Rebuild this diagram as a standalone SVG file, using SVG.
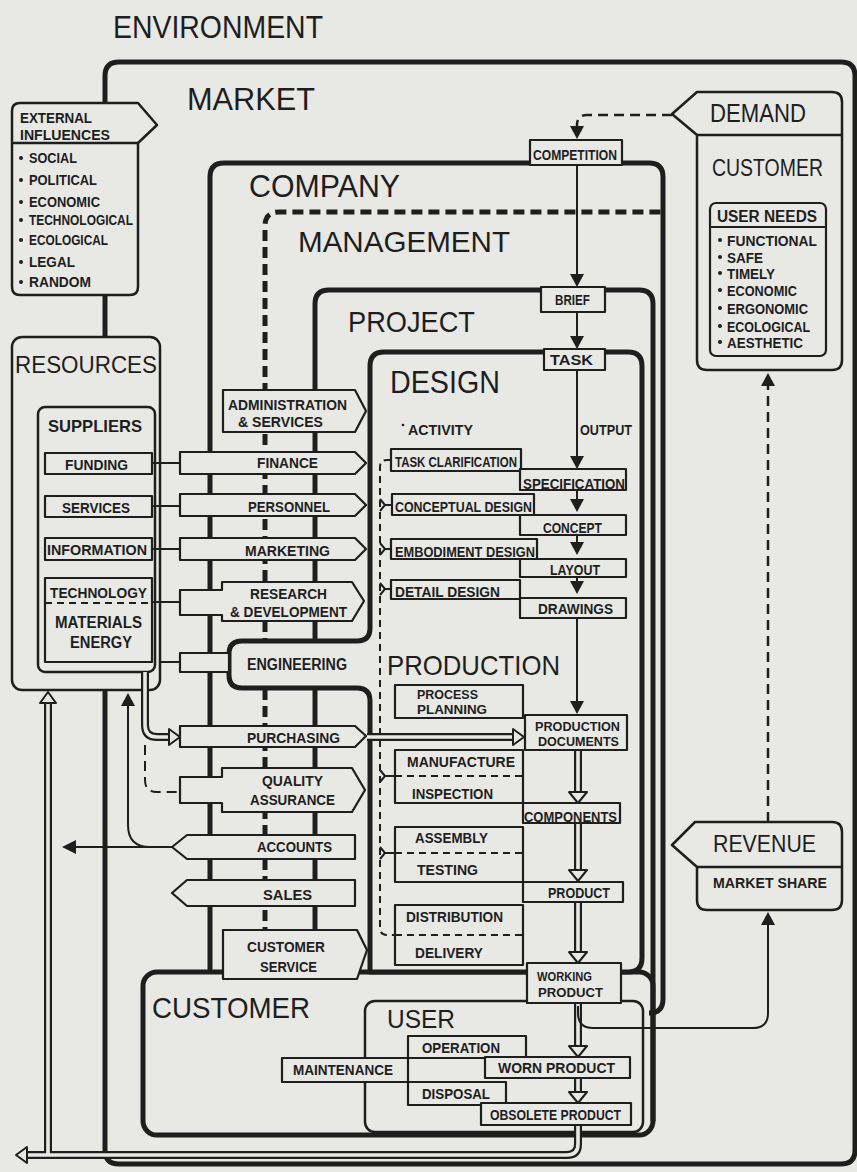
<svg xmlns="http://www.w3.org/2000/svg" width="857" height="1172" viewBox="0 0 857 1172">
<style>
.k{fill:none;stroke:#1e1e1e;stroke-width:5;stroke-linejoin:round}
.kf{fill:#e8e8e5;stroke:#1e1e1e;stroke-width:5;stroke-linejoin:round}
.kd{fill:none;stroke:#1e1e1e;stroke-width:5;stroke-dasharray:11 6}
.n{fill:#e8e8e5;stroke:#1e1e1e;stroke-width:2.2;stroke-linejoin:round}
.ln{fill:none;stroke:#1e1e1e;stroke-width:2}
.dl{fill:none;stroke:#1e1e1e;stroke-width:2;stroke-dasharray:7 5}
.dd{fill:none;stroke:#1e1e1e;stroke-width:2.5;stroke-dasharray:10 6}
.s1{fill:none;stroke:#1e1e1e;stroke-width:8}
.s2{fill:none;stroke:#e8e8e5;stroke-width:3.6}
.t{font-family:"Liberation Sans",Arial,sans-serif;fill:#1e1e1e}
.b{font-weight:bold;font-size:15px}
.bt{font-weight:bold;font-size:13px}
.bm{font-weight:bold;font-size:16px}
.bl{font-weight:bold;font-size:17px}
.bs{font-weight:bold;font-size:14px}
.dot{fill:#1e1e1e}
</style>
<defs>
<path id="ad" d="M-7,-13 H7 L0,0 Z" fill="#1e1e1e"/>
<path id="au" d="M-7,13 H7 L0,0 Z" fill="#1e1e1e"/>
<path id="al" d="M14,-7 V7 L0,0 Z" fill="#1e1e1e"/>
<path id="hd" d="M-9,-11 H9 L0,0 Z" fill="#e8e8e5" stroke="#1e1e1e" stroke-width="2" stroke-linejoin="round"/>
<path id="hu" d="M-8,11 H8 L0,0 Z" fill="#e8e8e5" stroke="#1e1e1e" stroke-width="2" stroke-linejoin="round"/>
<path id="hr" d="M-11,-8 V8 L0,0 Z" fill="#e8e8e5" stroke="#1e1e1e" stroke-width="2" stroke-linejoin="round"/>
<path id="hl" d="M11,-8 V8 L0,0 Z" fill="#e8e8e5" stroke="#1e1e1e" stroke-width="2" stroke-linejoin="round"/>
</defs>
<rect width="857" height="1172" fill="#e8e8e5"/>

<g id="containers">
<path class="k" d="M105,1150 V76 Q105,62 119,62 H841 Q855,62 855,76 V1150 Q855,1164 841,1164 H119 Q105,1164 105,1150 Z"/>
<path class="k" d="M210,972 V177 Q210,163 224,163 H649 Q663,163 663,177 V999 Q663,1013 649,1013"/>
<path class="kd" d="M265,972 V226 Q265,212 279,212 H661"/>
<path class="k" d="M315,972 V304 Q315,290 329,290 H639 Q653,290 653,304 V1121"/>
<rect class="k" x="143" y="972" width="510" height="163" rx="14"/>
<path class="kf" d="M370,366 Q370,352 384,352 H628 Q642,352 642,366 V958 Q642,972 628,972 H370 V701 Q370,688 357,688 H242 Q229,688 229,675 V654 Q229,641 242,641 H357 Q370,641 370,628 Z"/>
<rect class="n" x="365" y="1001" width="278" height="131" rx="10" style="fill:none;stroke-width:2.5"/>
</g>

<g id="external-influences">
<path class="n" d="M20,103 H138 L157,125 L138,143 V287 Q138,295 130,295 H20 Q12,295 12,287 V111 Q12,103 20,103 Z" style="stroke-width:2.5"/>
<path class="ln" d="M12,143 H138" style="stroke-width:2.5"/>
</g>
<g id="demand-customer">
<path class="n" d="M697,92 H832 Q842,92 842,102 V360 Q842,370 832,370 H707 Q697,370 697,360 V135 L672,114 Z" style="stroke-width:2.5"/>
<path class="ln" d="M697,135 H842" style="stroke-width:2.5"/>
</g>
<g id="user-needs">
<rect class="n" x="710" y="203" width="116" height="153" rx="6"/>
<path class="ln" d="M710,227 H826"/>
</g>
<g id="revenue">
<path class="n" d="M695,822 H832 Q842,822 842,832 V900 Q842,910 832,910 H707 Q697,910 697,900 V867 L672,845 Z" style="stroke-width:2.5"/>
<path class="ln" d="M697,867 H842" style="stroke-width:2.5"/>
</g>
<g id="resources">
<rect class="n" x="12" y="337" width="148" height="353" rx="10" style="stroke-width:2.5"/>
</g>
<g id="suppliers">
<rect class="n" x="38" y="407" width="117" height="265" rx="7" style="stroke-width:2.5"/>
</g>
<g id="funding"><rect class="n" x="45" y="453" width="107" height="21"/></g>
<g id="services"><rect class="n" x="45" y="496" width="107" height="21"/></g>
<g id="information"><rect class="n" x="45" y="538" width="107" height="22"/></g>
<g id="technology"><rect class="n" x="45" y="578" width="107" height="84"/><path class="dl" d="M45,603 H152"/></g>

<g id="admin"><path class="n" d="M223,390 H355 L366,411 L355,432 H223 Z"/></g>
<g id="finance"><path class="n" d="M180,452 H355 L366,463 L355,474 H180 Z"/></g>
<g id="personnel"><path class="n" d="M180,494 H355 L366,505 L355,516 H180 Z"/></g>
<g id="marketing"><path class="n" d="M180,538 H355 L366,549 L355,560 H180 Z"/></g>
<g id="rnd"><path class="n" d="M180,590 H222 V582 H352 L364,601 L352,621 H222 V615 H180 Z"/></g>
<g id="engineering"><rect class="n" x="180" y="653" width="49" height="19"/></g>
<g id="purchasing"><path class="n" d="M180,726 H355 L366,736 L355,747 H180 Z"/></g>
<g id="qa"><path class="n" d="M180,777 H222 V768 H352 L365,790 L352,812 H222 V803 H180 Z"/></g>
<g id="accounts"><path class="n" d="M172,847 L187,835 H355 V859 H187 Z"/></g>
<g id="sales"><path class="n" d="M172,893 L187,880 H355 V906 H187 Z"/></g>
<g id="customer-service"><path class="n" d="M223,930 H357 L367,950 L357,979 H223 Z"/></g>

<g id="competition"><rect class="n" x="530" y="140" width="92" height="25"/></g>
<g id="brief"><rect class="n" x="541" y="287" width="64" height="25"/></g>
<g id="task"><rect class="n" x="544" y="349" width="61" height="21"/></g>
<g id="task-clarification"><rect class="n" x="391" y="449" width="130" height="22"/></g>
<g id="specification"><rect class="n" x="520" y="469" width="106" height="21"/></g>
<g id="conceptual-design"><rect class="n" x="392" y="494" width="142" height="21"/></g>
<g id="concept"><rect class="n" x="520" y="515" width="106" height="20"/></g>
<g id="embodiment-design"><rect class="n" x="391" y="539" width="146" height="20"/></g>
<g id="layout"><rect class="n" x="520" y="559" width="106" height="18"/></g>
<g id="detail-design"><rect class="n" x="391" y="580" width="129" height="19"/></g>
<g id="drawings"><rect class="n" x="520" y="598" width="106" height="20"/></g>
<g id="process-planning"><rect class="n" x="395" y="685" width="128" height="33"/></g>
<g id="production-documents"><rect class="n" x="525" y="715" width="102" height="35"/></g>
<g id="manufacture"><rect class="n" x="395" y="750" width="128" height="53"/><path class="dl" d="M395,776 H523"/></g>
<g id="components"><rect class="n" x="523" y="803" width="97" height="20"/></g>
<g id="assembly"><rect class="n" x="395" y="827" width="128" height="55"/><path class="dl" d="M395,853 H523"/></g>
<g id="product"><rect class="n" x="523" y="882" width="100" height="20"/></g>
<g id="distribution"><rect class="n" x="395" y="905" width="128" height="60"/><path class="dl" d="M395,935 H523"/></g>
<g id="working-product"><rect class="n" x="527" y="963" width="94" height="40"/></g>
<g id="operation"><rect class="n" x="408" y="1036" width="118" height="22"/></g>
<g id="maintenance"><rect class="n" x="282" y="1058" width="126" height="24"/></g>
<g id="disposal"><rect class="n" x="408" y="1082" width="98" height="23"/></g>
<g id="worn-product"><rect class="n" x="485" y="1057" width="145" height="21"/></g>
<g id="obsolete-product"><rect class="n" x="481" y="1103" width="150" height="22"/></g>

<g id="connectors">
<path class="ln" d="M152,463 H180 M152,506 H180 M152,549 H180 M152,602 H180 M160,662 H180"/>
<path class="dd" d="M672,115 H587 Q577,115 577,125 V127"/>
<use href="#ad" x="577" y="139"/>
<path class="ln" d="M577,165 V275 M577,312 V337 M577,370 V457 M577,490 V500 M577,535 V542 M577,577 V582 M577,618 V702"/>
<use href="#ad" x="577" y="287"/>
<use href="#ad" x="577" y="349"/>
<use href="#ad" x="577" y="469"/>
<use href="#ad" x="577" y="512"/>
<use href="#ad" x="577" y="555"/>
<use href="#ad" x="577" y="594"/>
<use href="#ad" x="577" y="714"/>
<path class="dl" d="M391,460 H387 Q380,460 380,467 V928 Q380,935 387,935 H395"/>
<path class="ln" d="M380,499 L385,505 L380,511 M385,505 H392 M380,543 L385,549 L380,555 M385,549 H391 M380,583 L385,589 L380,595 M385,589 H391 M380,770 L385,776 L380,782 M385,776 H395 M380,847 L385,853 L380,859 M385,853 H395"/>
<path class="s1" d="M578,751 V793 M578,824 V871 M578,903 V953 M578,1004 V1047 M578,1079 V1093 M578,1126 V1144 Q578,1155 567,1155 H27 M48,1155 V703 M145,672 V725 Q145,737 157,737 H169 M367,737 H513"/>
<path class="s2" d="M578,751 V793 M578,824 V871 M578,903 V953 M578,1004 V1047 M578,1079 V1093 M578,1126 V1144 Q578,1155 567,1155 H27 M48,1155 V703 M145,672 V725 Q145,737 157,737 H169 M367,737 H513"/>
<use href="#hd" x="578" y="803"/>
<use href="#hd" x="578" y="881"/>
<use href="#hd" x="578" y="963"/>
<use href="#hd" x="578" y="1057"/>
<use href="#hd" x="578" y="1103"/>
<use href="#hl" x="16" y="1155"/>
<use href="#hu" x="48" y="692"/>
<use href="#hr" x="180" y="737"/>
<use href="#hr" x="524" y="737"/>
<path class="dd" d="M145,745 V780 Q145,792 157,792 H180" style="stroke-width:2"/>
<path class="ln" d="M172,847 H74 M150,847 Q128,847 128,825 V705"/>
<use href="#al" x="62" y="847"/>
<use href="#au" x="128" y="693"/>
<path class="ln" d="M578,1006 V1013 Q578,1028 593,1028 H753 Q768,1028 768,1013 V924"/>
<use href="#au" x="768" y="912"/>
<path class="dd" d="M768,822 V386"/>
<use href="#au" x="768" y="373"/>
</g>

<g id="labels" class="t">
<text x="113" y="38" font-size="31" textLength="210" lengthAdjust="spacingAndGlyphs">ENVIRONMENT</text>
<text x="187" y="110" font-size="31" textLength="128" lengthAdjust="spacingAndGlyphs">MARKET</text>
<text x="249" y="197" font-size="32" textLength="151" lengthAdjust="spacingAndGlyphs">COMPANY</text>
<text x="298" y="252" font-size="30" textLength="212" lengthAdjust="spacingAndGlyphs">MANAGEMENT</text>
<text x="348" y="332" font-size="30" textLength="127" lengthAdjust="spacingAndGlyphs">PROJECT</text>
<text x="390" y="393" font-size="31" textLength="110" lengthAdjust="spacingAndGlyphs">DESIGN</text>
<text x="387" y="675" font-size="28" textLength="173" lengthAdjust="spacingAndGlyphs">PRODUCTION</text>
<text x="152" y="1018" font-size="29" textLength="158" lengthAdjust="spacingAndGlyphs">CUSTOMER</text>
<text x="387" y="1028" font-size="26" textLength="68" lengthAdjust="spacingAndGlyphs">USER</text>
<text x="15" y="373" font-size="23" textLength="142" lengthAdjust="spacingAndGlyphs">RESOURCES</text>
<text x="710" y="122" font-size="25" textLength="96" lengthAdjust="spacingAndGlyphs">DEMAND</text>
<text x="712" y="176" font-size="24" textLength="111" lengthAdjust="spacingAndGlyphs">CUSTOMER</text>
<text x="713" y="852" font-size="23" textLength="103" lengthAdjust="spacingAndGlyphs">REVENUE</text>

<text class="b" x="20" y="123" textLength="72" lengthAdjust="spacingAndGlyphs">EXTERNAL</text>
<text class="b" x="20" y="140" textLength="90" lengthAdjust="spacingAndGlyphs">INFLUENCES</text>
<text class="b" x="29" y="163" textLength="48" lengthAdjust="spacingAndGlyphs">SOCIAL</text>
<text class="b" x="29" y="185" textLength="68" lengthAdjust="spacingAndGlyphs">POLITICAL</text>
<text class="b" x="29" y="207" textLength="71" lengthAdjust="spacingAndGlyphs">ECONOMIC</text>
<text class="b" x="29" y="225" textLength="104" lengthAdjust="spacingAndGlyphs">TECHNOLOGICAL</text>
<text class="b" x="29" y="245" textLength="79" lengthAdjust="spacingAndGlyphs">ECOLOGICAL</text>
<text class="b" x="29" y="267" textLength="46" lengthAdjust="spacingAndGlyphs">LEGAL</text>
<text class="b" x="29" y="287" textLength="62" lengthAdjust="spacingAndGlyphs">RANDOM</text>

<text class="bm" x="717" y="222" textLength="100" lengthAdjust="spacingAndGlyphs">USER NEEDS</text>
<text class="b" x="727" y="246" textLength="90" lengthAdjust="spacingAndGlyphs">FUNCTIONAL</text>
<text class="b" x="727" y="263" textLength="36" lengthAdjust="spacingAndGlyphs">SAFE</text>
<text class="b" x="727" y="279" textLength="48" lengthAdjust="spacingAndGlyphs">TIMELY</text>
<text class="b" x="727" y="296" textLength="70" lengthAdjust="spacingAndGlyphs">ECONOMIC</text>
<text class="b" x="727" y="314" textLength="81" lengthAdjust="spacingAndGlyphs">ERGONOMIC</text>
<text class="b" x="727" y="332" textLength="83" lengthAdjust="spacingAndGlyphs">ECOLOGICAL</text>
<text class="b" x="727" y="348" textLength="76" lengthAdjust="spacingAndGlyphs">AESTHETIC</text>
<text class="b" x="713" y="888" textLength="114" lengthAdjust="spacingAndGlyphs">MARKET SHARE</text>

<text class="bl" x="48" y="432" textLength="94" lengthAdjust="spacingAndGlyphs">SUPPLIERS</text>
<text class="b" x="65" y="470" textLength="63" lengthAdjust="spacingAndGlyphs">FUNDING</text>
<text class="b" x="62" y="513" textLength="68" lengthAdjust="spacingAndGlyphs">SERVICES</text>
<text class="b" x="47" y="555" textLength="100" lengthAdjust="spacingAndGlyphs">INFORMATION</text>
<text class="b" x="50" y="598" textLength="97" lengthAdjust="spacingAndGlyphs">TECHNOLOGY</text>
<text class="bm" x="55" y="628" textLength="87" lengthAdjust="spacingAndGlyphs">MATERIALS</text>
<text class="bm" x="70" y="648" textLength="62" lengthAdjust="spacingAndGlyphs">ENERGY</text>

<text class="b" x="228" y="410" textLength="119" lengthAdjust="spacingAndGlyphs">ADMINISTRATION</text>
<text class="b" x="238" y="427" textLength="85" lengthAdjust="spacingAndGlyphs">&amp; SERVICES</text>
<text class="b" x="257" y="468" textLength="61" lengthAdjust="spacingAndGlyphs">FINANCE</text>
<text class="b" x="248" y="512" textLength="82" lengthAdjust="spacingAndGlyphs">PERSONNEL</text>
<text class="b" x="245" y="556" textLength="85" lengthAdjust="spacingAndGlyphs">MARKETING</text>
<text class="b" x="250" y="599" textLength="77" lengthAdjust="spacingAndGlyphs">RESEARCH</text>
<text class="b" x="230" y="617" textLength="117" lengthAdjust="spacingAndGlyphs">&amp; DEVELOPMENT</text>
<text class="bm" x="247" y="670" textLength="100" lengthAdjust="spacingAndGlyphs">ENGINEERING</text>
<text class="b" x="247" y="743" textLength="93" lengthAdjust="spacingAndGlyphs">PURCHASING</text>
<text class="b" x="262" y="786" textLength="61" lengthAdjust="spacingAndGlyphs">QUALITY</text>
<text class="b" x="250" y="805" textLength="85" lengthAdjust="spacingAndGlyphs">ASSURANCE</text>
<text class="b" x="257" y="852" textLength="75" lengthAdjust="spacingAndGlyphs">ACCOUNTS</text>
<text class="b" x="263" y="900" textLength="49" lengthAdjust="spacingAndGlyphs">SALES</text>
<text class="b" x="247" y="952" textLength="78" lengthAdjust="spacingAndGlyphs">CUSTOMER</text>
<text class="b" x="260" y="972" textLength="57" lengthAdjust="spacingAndGlyphs">SERVICE</text>

<text class="bs" x="533" y="160" textLength="84" lengthAdjust="spacingAndGlyphs">COMPETITION</text>
<text class="bs" x="555" y="305" textLength="35" lengthAdjust="spacingAndGlyphs">BRIEF</text>
<text class="bs" x="550" y="365" textLength="43" lengthAdjust="spacingAndGlyphs">TASK</text>
<text class="b" x="580" y="435" textLength="52" lengthAdjust="spacingAndGlyphs">OUTPUT</text>
<text class="b" x="408" y="435" textLength="65" lengthAdjust="spacingAndGlyphs">ACTIVITY</text>
<text class="b" x="395" y="467" textLength="122" lengthAdjust="spacingAndGlyphs">TASK CLARIFICATION</text>
<text class="b" x="523" y="489" textLength="102" lengthAdjust="spacingAndGlyphs">SPECIFICATION</text>
<text class="b" x="395" y="512" textLength="137" lengthAdjust="spacingAndGlyphs">CONCEPTUAL DESIGN</text>
<text class="b" x="543" y="533" textLength="59" lengthAdjust="spacingAndGlyphs">CONCEPT</text>
<text class="b" x="395" y="557" textLength="140" lengthAdjust="spacingAndGlyphs">EMBODIMENT DESIGN</text>
<text class="b" x="550" y="575" textLength="50" lengthAdjust="spacingAndGlyphs">LAYOUT</text>
<text class="b" x="395" y="597" textLength="105" lengthAdjust="spacingAndGlyphs">DETAIL DESIGN</text>
<text class="b" x="538" y="614" textLength="75" lengthAdjust="spacingAndGlyphs">DRAWINGS</text>
<text class="bt" x="417" y="699" textLength="61" lengthAdjust="spacingAndGlyphs">PROCESS</text>
<text class="bt" x="417" y="714" textLength="70" lengthAdjust="spacingAndGlyphs">PLANNING</text>
<text class="bt" x="535" y="731" textLength="85" lengthAdjust="spacingAndGlyphs">PRODUCTION</text>
<text class="bt" x="538" y="746" textLength="81" lengthAdjust="spacingAndGlyphs">DOCUMENTS</text>
<text class="b" x="407" y="767" textLength="108" lengthAdjust="spacingAndGlyphs">MANUFACTURE</text>
<text class="b" x="412" y="799" textLength="81" lengthAdjust="spacingAndGlyphs">INSPECTION</text>
<text class="b" x="524" y="822" textLength="93" lengthAdjust="spacingAndGlyphs">COMPONENTS</text>
<text class="b" x="415" y="843" textLength="73" lengthAdjust="spacingAndGlyphs">ASSEMBLY</text>
<text class="b" x="417" y="875" textLength="61" lengthAdjust="spacingAndGlyphs">TESTING</text>
<text class="b" x="548" y="898" textLength="62" lengthAdjust="spacingAndGlyphs">PRODUCT</text>
<text class="b" x="406" y="922" textLength="97" lengthAdjust="spacingAndGlyphs">DISTRIBUTION</text>
<text class="b" x="415" y="958" textLength="68" lengthAdjust="spacingAndGlyphs">DELIVERY</text>
<text class="bt" x="537" y="981" textLength="55" lengthAdjust="spacingAndGlyphs">WORKING</text>
<text class="bt" x="538" y="997" textLength="65" lengthAdjust="spacingAndGlyphs">PRODUCT</text>
<text class="b" x="422" y="1053" textLength="78" lengthAdjust="spacingAndGlyphs">OPERATION</text>
<text class="b" x="293" y="1075" textLength="100" lengthAdjust="spacingAndGlyphs">MAINTENANCE</text>
<text class="b" x="498" y="1073" textLength="117" lengthAdjust="spacingAndGlyphs">WORN PRODUCT</text>
<text class="b" x="422" y="1099" textLength="68" lengthAdjust="spacingAndGlyphs">DISPOSAL</text>
<text class="b" x="490" y="1120" textLength="131" lengthAdjust="spacingAndGlyphs">OBSOLETE PRODUCT</text>
</g>
<g id="bullets">
<circle class="dot" cx="21" cy="158" r="2"/><circle class="dot" cx="21" cy="180" r="2"/><circle class="dot" cx="21" cy="202" r="2"/><circle class="dot" cx="21" cy="220" r="2"/><circle class="dot" cx="21" cy="240" r="2"/><circle class="dot" cx="21" cy="262" r="2"/><circle class="dot" cx="21" cy="282" r="2"/>
<circle class="dot" cx="720" cy="240" r="2"/><circle class="dot" cx="720" cy="257" r="2"/><circle class="dot" cx="720" cy="273" r="2"/><circle class="dot" cx="720" cy="290" r="2"/><circle class="dot" cx="720" cy="308" r="2"/><circle class="dot" cx="720" cy="326" r="2"/><circle class="dot" cx="720" cy="342" r="2"/>
<circle class="dot" cx="403" cy="425" r="1.3"/>
</g>
</svg>
